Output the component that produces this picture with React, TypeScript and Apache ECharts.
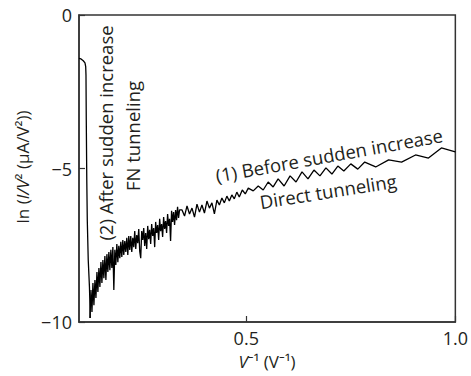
import React, { useEffect, useRef } from 'react';
import * as echarts from 'echarts';

// x tick labels (V^-1)
const xTickValues: number[] = [0.5, 1.0];

// (2) After sudden increase — FN tunneling branch [V^-1, ln(I/V^2)]
const fnTunneling: [number, number][] = [
  [0.1, -1.41], [0.1048, -1.43], [0.1102, -1.49], [0.1143, -1.56], [0.116, -1.68],
  [0.1167, -1.95], [0.1174, -3.42], [0.1186, -5.37], [0.1198, -6.68], [0.1221, -7.98],
  [0.125, -8.86], [0.1262, -9.45], [0.1269, -9.87],
];

// (1) Before sudden increase — direct tunneling branch [V^-1, ln(I/V^2)]
const directTunneling: [number, number][] = [
  [0.1262, -9.87], [0.1286, -8.96], [0.131, -9.67], [0.1333, -8.73], [0.1357, -9.45],
  [0.1381, -8.63], [0.1405, -9.22], [0.1429, -8.37], [0.1452, -9.02], [0.1476, -8.24],
  [0.15, -8.86], [0.1524, -8.05], [0.1548, -8.73], [0.1571, -7.98], [0.1595, -8.57],
  [0.1619, -7.85], [0.1643, -8.63], [0.1667, -7.79], [0.169, -8.37], [0.1714, -7.72],
  [0.1738, -8.31], [0.1762, -7.65], [0.1786, -8.24], [0.181, -7.56], [0.1833, -8.96],
  [0.1857, -7.65], [0.1881, -8.14], [0.1905, -7.46], [0.1929, -8.05], [0.1952, -7.52],
  [0.1976, -7.92], [0.2, -7.39], [0.2024, -7.88], [0.2048, -7.33], [0.2071, -7.82],
  [0.2095, -7.36], [0.2119, -7.72], [0.2143, -7.26], [0.2167, -7.82], [0.219, -7.2],
  [0.2214, -7.65],
  [0.2238, -7.2], [0.2262, -7.72], [0.2286, -7.26], [0.231, -7.56], [0.2333, -7.04],
  [0.2357, -7.62], [0.2381, -7.17], [0.2405, -7.43], [0.2429, -6.97], [0.2452, -7.69],
  [0.2476, -7.92], [0.25, -7.04], [0.2524, -7.33], [0.2548, -6.94], [0.2571, -7.52],
  [0.2595, -7.1], [0.2619, -7.62], [0.2643, -6.87], [0.2667, -7.3], [0.269, -7.0],
  [0.2714, -7.46], [0.2738, -6.81], [0.2762, -7.2], [0.2786, -6.94], [0.281, -7.56],
  [0.2833, -6.74], [0.2857, -7.1], [0.2881, -6.84], [0.2905, -7.33], [0.2929, -6.64],
  [0.2952, -7.04], [0.2976, -6.81], [0.3, -7.23], [0.3024, -6.58], [0.3048, -6.97],
  [0.3071, -6.71], [0.3095, -7.1], [0.3119, -6.48], [0.3143, -6.87], [0.3167, -6.64],
  [0.319, -7.36], [0.3214, -6.38], [0.3238, -6.74], [0.3262, -6.42], [0.3286, -6.84],
  [0.331, -6.35], [0.3333, -6.68], [0.3357, -6.25], [0.3381, -6.61], [0.3405, -6.35],
  [0.3464, -6.35], [0.3524, -6.55], [0.3583, -6.22], [0.3643, -6.48], [0.3702, -6.29],
  [0.3762, -6.58], [0.3821, -6.16], [0.3881, -6.42], [0.394, -6.19], [0.4, -6.45],
  [0.406, -6.06], [0.4119, -6.29], [0.4179, -6.12], [0.4238, -6.48], [0.4298, -6.03],
  [0.4357, -6.19], [0.4417, -5.96], [0.4476, -6.12], [0.4536, -5.9], [0.4595, -6.06],
  [0.4655, -5.86], [0.4714, -5.99], [0.4774, -5.77], [0.4833, -5.93], [0.4905, -5.7],
  [0.4976, -5.83], [0.5048, -5.64],
  [0.5167, -5.73], [0.5286, -5.57], [0.5405, -5.7], [0.5524, -5.44], [0.5643, -5.6],
  [0.5762, -5.34], [0.5905, -5.57], [0.6048, -5.24], [0.619, -5.44], [0.6333, -5.11],
  [0.6476, -5.34], [0.6619, -5.05], [0.6762, -5.24], [0.6905, -4.98], [0.7048, -5.18],
  [0.719, -4.92], [0.7333, -5.08], [0.75, -4.85], [0.7667, -5.02], [0.7833, -4.79],
  [0.8095, -4.95], [0.8405, -4.72], [0.8714, -4.79], [0.9048, -4.56], [0.9357, -4.66],
  [0.9667, -4.33], [1.0, -4.46],
];

const FONT = "'Open Sans', 'Noto Sans', sans-serif";
const INK = '#231f20';
const AXIS = '#333333';

export default function App() {
  const ref = useRef<HTMLDivElement>(null);

  useEffect(() => {
    if (!ref.current) return;
    const chart = echarts.init(ref.current, null, { renderer: 'svg' });
    const minus = (v: number) => (v < 0 ? '\u2212' + Math.abs(v) : String(v));
    const annot = (text: string, x: number, y: number, deg: number) => ({
      type: 'text',
      x,
      y,
      rotation: (deg * Math.PI) / 180,
      style: {
        text,
        fontSize: 18.5,
        fontFamily: FONT,
        fill: INK,
        align: 'center',
        verticalAlign: 'middle',
      },
    });
    chart.setOption({
      animation: false,
      backgroundColor: '#ffffff',
      grid: {
        left: 79,
        top: 15,
        right: 14,
        bottom: 54,
        show: true,
        borderColor: AXIS,
        borderWidth: 1.5,
        backgroundColor: 'transparent',
      },
      xAxis: {
        type: 'value',
        min: 0.1,
        max: 1.0,
        axisLine: { show: true, onZero: false, lineStyle: { color: AXIS, width: 1.5 } },
        axisTick: {
          show: true,
          inside: true,
          length: 6,
          customValues: xTickValues,
          lineStyle: { color: AXIS, width: 1.2 },
        },
        axisLabel: {
          customValues: xTickValues,
          formatter: (v: number) => v.toFixed(1),
          fontSize: 18,
          fontFamily: FONT,
          color: INK,
          margin: 7,
        },
        splitLine: { show: false },
      },
      yAxis: {
        type: 'value',
        min: -10,
        max: 0,
        interval: 5,
        axisLine: { show: true, onZero: false, lineStyle: { color: AXIS, width: 1.5 } },
        axisTick: { show: true, inside: true, length: 6, lineStyle: { color: AXIS, width: 1.2 } },
        axisLabel: {
          formatter: minus,
          fontSize: 18,
          fontFamily: FONT,
          color: INK,
          margin: 7,
        },
        splitLine: { show: false },
      },
      series: [
        {
          name: 'FN tunneling',
          type: 'line',
          data: fnTunneling,
          showSymbol: false,
          lineStyle: { color: '#000', width: 1.3 },
        },
        {
          name: 'Direct tunneling',
          type: 'line',
          data: directTunneling,
          showSymbol: false,
          lineStyle: { color: '#000', width: 1.3 },
        },
      ],
      graphic: [
        {
          type: 'text',
          x: 22,
          y: 167,
          rotation: Math.PI / 2,
          style: {
            text: 'ln ({i|I/V}² (μA/V²))',
            fontSize: 17,
            fontFamily: FONT,
            fill: INK,
            align: 'center',
            verticalAlign: 'middle',
            rich: { i: { fontStyle: 'italic', fontSize: 17, fontFamily: FONT, fill: INK } },
          },
        },
        {
          type: 'text',
          x: 267,
          y: 361,
          style: {
            text: '{i|V}⁻¹ (V⁻¹)',
            fontSize: 17,
            fontFamily: FONT,
            fill: INK,
            align: 'center',
            verticalAlign: 'middle',
            rich: { i: { fontStyle: 'italic', fontSize: 17, fontFamily: FONT, fill: INK } },
          },
        },
        annot('(2) After sudden increase', 105, 133, 90),
        annot('FN tunneling', 132, 136, 90),
        annot('(1) Before sudden increase', 329, 155, 10.2),
        annot('Direct tunneling', 328, 191, 9),
      ],
    });
    return () => chart.dispose();
  }, []);

  return (
    <div
      ref={ref}
      style={{ position: 'fixed', left: 0, top: 0, width: 471, height: 376, background: '#fff' }}
    />
  );
}
